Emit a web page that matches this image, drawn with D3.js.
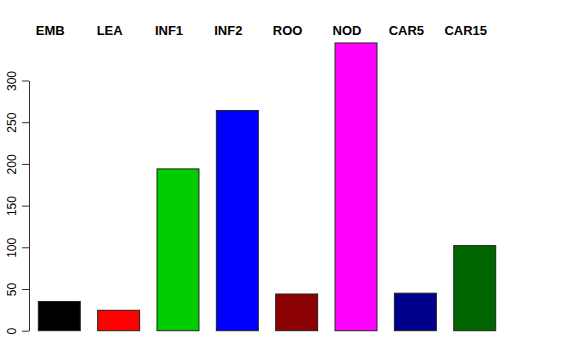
<!DOCTYPE html>
<html>
<head>
<meta charset="utf-8">
<script src="https://cdn.jsdelivr.net/npm/d3@7"></script>
<style>
  html, body { margin: 0; padding: 0; background: #fff; }
  svg { display: block; }
</style>
</head>
<body>
<svg id="chart" width="576" height="360"></svg>
<script>
const categories = ["EMB", "LEA", "INF1", "INF2", "ROO", "NOD", "CAR5", "CAR15"];
const values = [35, 24.5, 194, 264, 44, 345, 45, 102];
const barColors = ["#000000", "#FF0000", "#00CD00", "#0000FF", "#8B0000", "#FF00FF", "#00008B", "#006400"];
const yTicks = [0, 50, 100, 150, 200, 250, 300];

const svg = d3.select("#chart");

const x = d3.scaleBand()
  .domain(categories)
  .range([29.4, 504.6])
  .paddingInner(0.293)
  .paddingOuter(0.15);

const y = d3.scaleLinear()
  .domain([0, 300])
  .range([330.7, 80.5]);

// bars
svg.append("g")
  .selectAll("rect")
  .data(categories)
  .join("rect")
  .attr("x", d => x(d))
  .attr("width", x.bandwidth())
  .attr("y", (d, i) => y(values[i]))
  .attr("height", (d, i) => y(0) - y(values[i]))
  .attr("fill", (d, i) => barColors[i])
  .attr("stroke", "#222")
  .attr("stroke-width", 1);

// y axis
const yAxis = d3.axisLeft(y)
  .tickValues(yTicks)
  .tickSize(7)
  .tickSizeOuter(0)
  .tickFormat(d3.format("d"));

const gy = svg.append("g")
  .attr("transform", "translate(29,0)")
  .call(yAxis);

gy.select(".domain").attr("stroke", "#333");
gy.selectAll(".tick line").attr("stroke", "#333");
gy.selectAll(".tick text")
  .attr("x", null)
  .attr("dy", null)
  .attr("transform", "translate(-13,0) rotate(-90)")
  .attr("text-anchor", "middle")
  .attr("font-family", "Liberation Sans, Arial, sans-serif")
  .attr("font-size", 12)
  .attr("fill", "#000");

// category labels at top
svg.append("g")
  .selectAll("text")
  .data(categories)
  .join("text")
  .attr("x", d => x(d) + x.bandwidth() / 2 - 9)
  .attr("y", 35)
  .attr("text-anchor", "middle")
  .attr("font-family", "Liberation Sans, Arial, sans-serif")
  .attr("font-weight", "bold")
  .attr("font-size", 13)
  .attr("fill", "#000")
  .text(d => d);
</script>
</body>
</html>
